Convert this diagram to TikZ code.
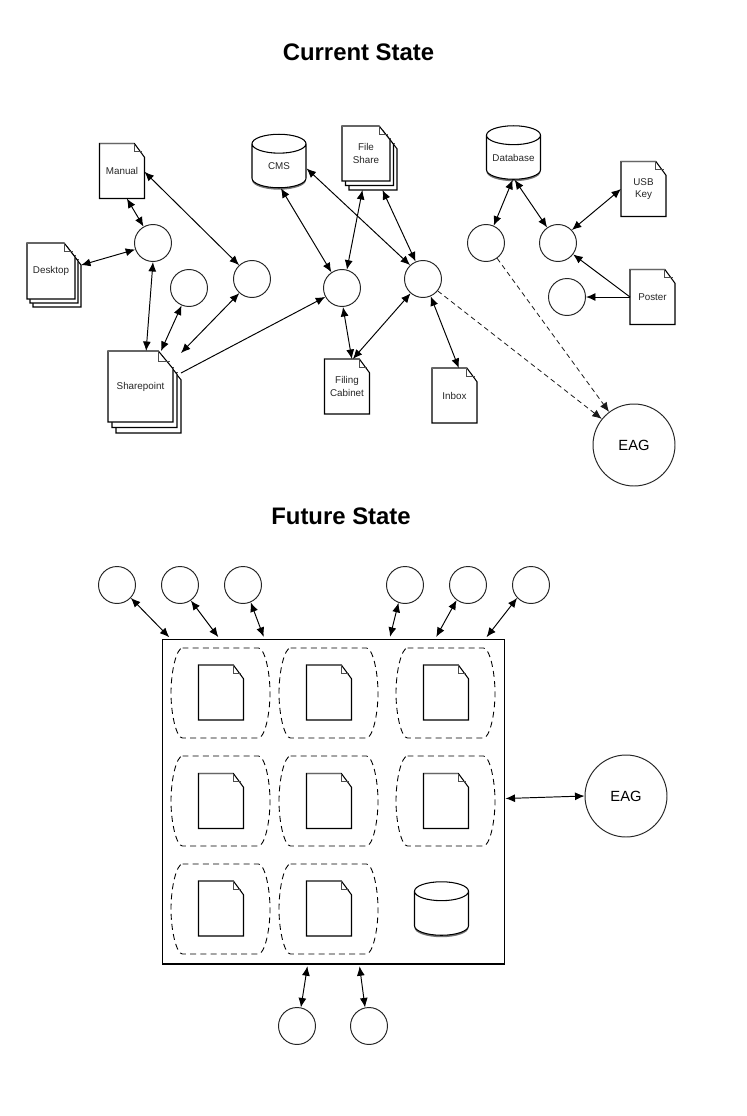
\documentclass[tikz,border=0pt]{standalone}
\usepackage{fontspec}
\setmainfont{Liberation Sans}
\usetikzlibrary{arrows.meta,shapes.geometric,shadows}
\tikzset{
  sheet/.style={draw=black,line width=0.6pt,fill=white,line join=miter},
  pagebox/.style={inner sep=0pt,outer sep=0pt,align=center,text=black!85,font=\fontsize{5.6}{6.9}\selectfont},
  roundnode/.style={circle,draw=black!85,line width=0.55pt,minimum size=0.74cm,inner sep=0pt,fill=white},
  bignode/.style={roundnode,minimum size=1.64cm,font=\fontsize{8.4}{10}\selectfont},
  dbnode/.style={cylinder,shape border rotate=90,aspect=0.42,draw=black,line width=0.6pt,fill=white,
    minimum width=1.08cm,minimum height=1.07cm,inner sep=0pt,text width=0.9cm,align=center,text=black!85,font=\fontsize{5.6}{6.9}\selectfont,
    general shadow={shadow xshift=0pt,shadow yshift=-1.1pt,fill=black!55}},
  twoway/.style={{Latex[length=1.9mm,width=1.6mm]}-{Latex[length=1.9mm,width=1.6mm]},line width=0.55pt},
  oneway/.style={-{Latex[length=1.9mm,width=1.6mm]},line width=0.55pt},
  gapway/.style={twoway,shorten >=1pt},
  dashway/.style={oneway,dashed,dash pattern=on 2.8pt off 2pt,line width=0.45pt,black!90},
  groupline/.style={dashed,dash pattern=on 3.4pt off 2.4pt,line width=0.5pt,black},
  heading/.style={font=\fontsize{13.6}{16}\selectfont\bfseries},
}
% name, cx, cy, half width, half height, text
\newcommand{\pagesheet}[6]{
  \draw[sheet,shift={(#2,#3)}] (-#4,-#5) -- ({#4*0.55},-#5) -- (#4,{-#5*0.5}) -- (#4,#5) -- (-#4,#5) -- cycle;
  \draw[black!70,line width=0.5pt,shift={(#2,#3)}] ({#4*0.55},-#5) -- ({#4*0.55},{-#5*0.7}) -- ({#4*0.9},{-#5*0.7});
  \draw[black!60,line width=1pt,shift={(#2,#3)}] (-#4,-#5) -- ({#4*0.55},-#5);
  \node[pagebox,minimum width=#4*0.04cm,minimum height=#5*0.04cm] (#1) at (#2,#3) {#6};
}
% name, cx, cy, half width, half height, dx, dy, text
\newcommand{\pagestack}[8]{
  \pagesheet{#1-back}{#2+2*#6}{#3+2*#7}{#4}{#5}{}
  \pagesheet{#1-mid}{#2+#6}{#3+#7}{#4}{#5}{}
  \pagesheet{#1}{#2}{#3}{#4}{#5}{#8}
}
% name, cx, cy
\newcommand{\groupblob}[3]{
  \draw[groupline,shift={(#2,#3)}] (-38,-45) -- (38,-45) .. controls (44,-45) and (49.5,-22) .. (49.5,0)
    .. controls (49.5,22) and (44,45) .. (38,45) -- (-38,45) .. controls (-44,45) and (-49.5,22) .. (-49.5,0)
    .. controls (-49.5,-22) and (-44,-45) .. (-38,-45) -- cycle;
  \coordinate (#1) at (#2,#3);
}
\begin{document}
\begin{tikzpicture}[x=0.02cm,y=-0.02cm]
\useasboundingbox (0,0) rectangle (747,1116);
\node[heading] (current) at (358.5,52) {Current State};
\node[heading] (future) at (341,516) {Future State};

% current state
\pagesheet{manual}{122}{171}{22.5}{27.5}{Manual}
\pagestack{desktop}{51}{271}{24}{28}{3}{4}{Desktop}
\pagestack{sharepoint}{140.5}{386.5}{32.5}{35.5}{4}{5.5}{Sharepoint}
\pagestack{fileshare}{366}{153.5}{24}{27.5}{3.5}{4.5}{File\\Share}
\pagesheet{filing}{347}{386.5}{22.5}{27.5}{Filing\\Cabinet}
\pagesheet{inbox}{454.5}{395.5}{22.5}{27.5}{Inbox}
\pagesheet{usb}{643.5}{189}{22.5}{27.5}{USB\\Key}
\pagesheet{poster}{652.5}{297}{22.5}{27.5}{Poster}
\node[dbnode] (cms) at (279,166) {CMS};
\node[dbnode] (database) at (513.5,157.5) {Database};

\node[roundnode] (c1) at (153,243) {};
\node[roundnode] (c2) at (189,288) {};
\node[roundnode] (c3) at (252,279) {};
\node[roundnode] (c4) at (342,288) {};
\node[roundnode] (c5) at (423,279) {};
\node[roundnode] (c6) at (486,243) {};
\node[roundnode] (c7) at (558,243) {};
\node[roundnode] (c8) at (567,297) {};
\node[bignode] (eag) at (634,445) {EAG};
\coordinate (sharegap) at (181,353);

\draw[twoway] (manual.-80) -- (c1.120);
\draw[twoway] (manual.-2) -- (c3.133);
\draw[twoway] (desktop-back.30) -- (c1.200);
\draw[twoway] (c1.270) -- (sharepoint.81);
\draw[twoway] (c2.247) -- (sharepoint.60);
\draw[twoway] (c3.228) -- (sharegap);
\draw[oneway] (sharepoint-back.37) -- (c4.208);
\draw[twoway] (c4.124) -- (cms.-85);
\draw[twoway] (c4.75) -- (fileshare-back.-111);
\draw[twoway] (c4.273) -- (filing.80);
\draw[twoway] (c5.133) -- (cms.-5);
\draw[twoway] (c5.113) -- (fileshare-back.-71);
\draw[twoway] (c5.229) -- (filing.78);
\draw[twoway] (c5.294) -- (inbox.81);
\draw[dashway] (c5.321) -- (eag.141);
\draw[dashway] (c6.306) -- (eag.127);
\draw[twoway] (c6.66) -- (database.-92);
\draw[twoway] (c7.125) -- (database.-87);
\draw[twoway] (c7.43) -- (usb.180);
\draw[oneway] (poster.180) -- (c7.323);
\draw[oneway] (poster.180) -- (c8.0);

% future state
\node[draw=black,line width=0.6pt,minimum width=6.86cm,minimum height=6.5cm,inner sep=0pt] (store) at (333.5,801.5) {};
\foreach \name/\x/\y in {a/220.5/693,b/328.5/693,c/445.5/693,d/220.5/801,e/328.5/801,f/445.5/801,g/220.5/909,h/328.5/909}
  \groupblob{blob\name}{\x}{\y};
\foreach \name/\x/\y in {a/221/692.5,b/329/692.5,c/446/692.5,d/221/801,e/329/801,f/446/801,g/221/908.5,h/329/908.5}
  \pagesheet{page\name}{\x}{\y}{22.5}{27.5}{};
\node[dbnode] (db) at (441.5,913.5) {\phantom{CMS}};

\foreach \name/\x in {t1/117,t2/180,t3/243,t4/405,t5/468,t6/531}
  \node[roundnode] (\name) at (\x,585) {};
\node[roundnode] (b1) at (297,1026) {};
\node[roundnode] (b2) at (369,1026) {};
\node[bignode] (eagb) at (626,796) {EAG};

\draw[gapway] (t1.317) -- (store.135);
\draw[gapway] (t2.305) -- (store.125.5);
\draw[gapway] (t3.294) -- (store.113);
\draw[gapway] (t4.250) -- (store.71.9);
\draw[gapway] (t5.233) -- (store.58.2);
\draw[gapway] (t6.223) -- (store.47.7);
\draw[gapway] (b1.78) -- (store.-99.3);
\draw[gapway] (b2.102) -- (store.-81.1);
\draw[twoway] (store.1.2) -- (eagb.180);
\end{tikzpicture}
\end{document}
